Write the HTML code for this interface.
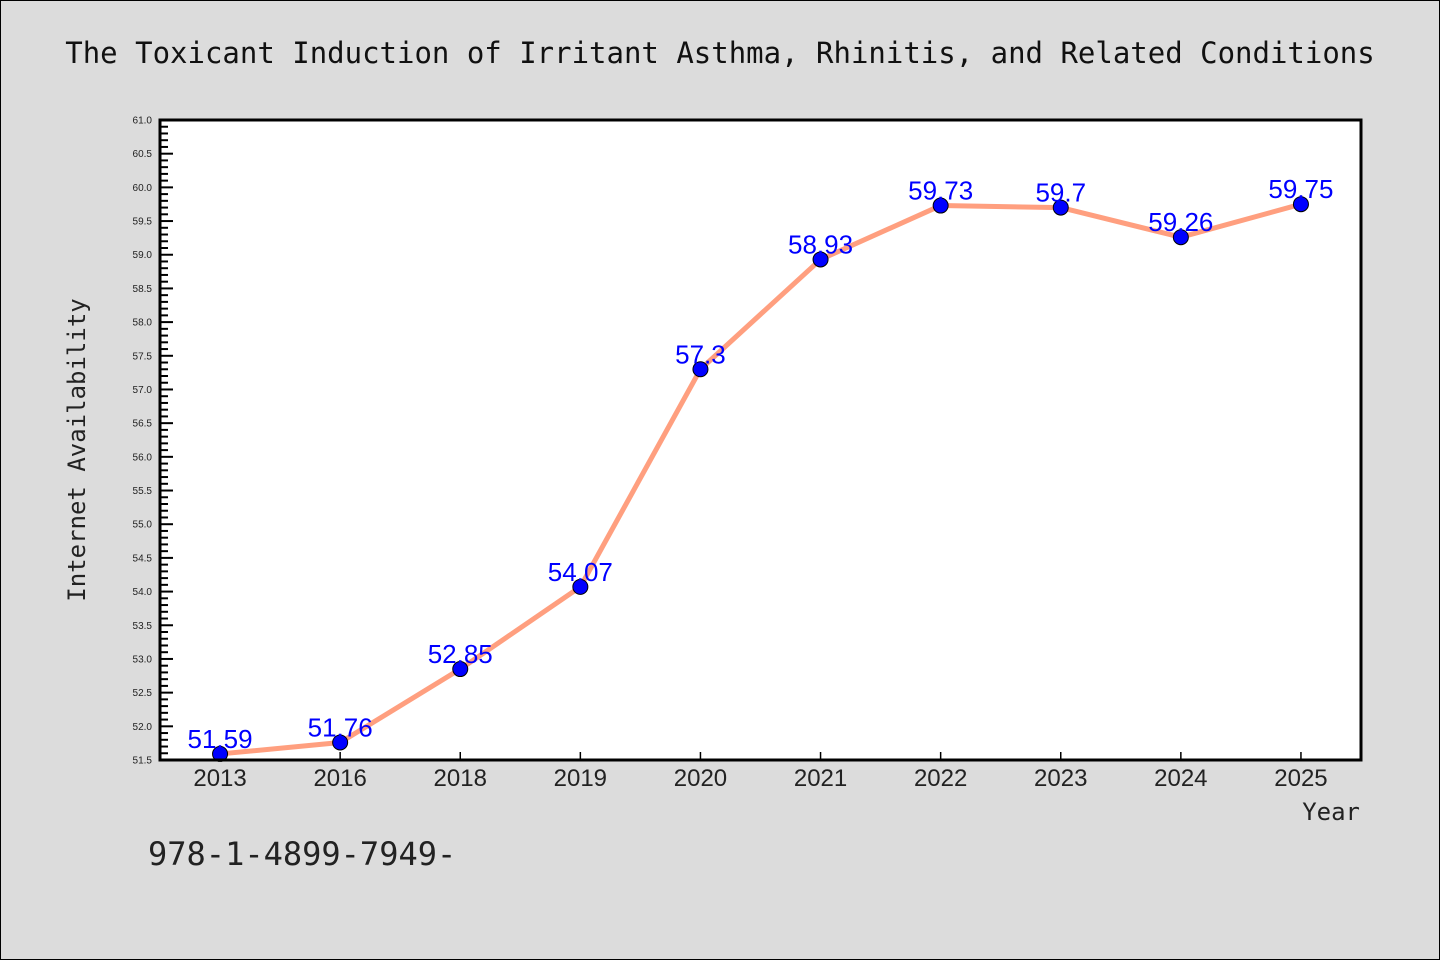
<!DOCTYPE html>
<html><head><meta charset="utf-8"><style>
body{margin:0;background:#dcdcdc;}
svg{display:block;font-family:"Liberation Sans","DejaVu Sans",sans-serif;}
.mono{font-family:"DejaVu Sans Mono","Liberation Mono",monospace;}
</style></head><body>
<svg id="chart" width="1440" height="960">
<rect x="0.5" y="0.5" width="1439" height="959" fill="#dcdcdc" stroke="#000"/>
<text class="mono" x="720" y="63" font-size="29" text-anchor="middle" fill="#111">The Toxicant Induction of Irritant Asthma, Rhinitis, and Related Conditions</text>
<rect x="160" y="120" width="1201" height="640" fill="#fff"/>
<g id="yaxis"></g>
<g id="xaxis"></g>
<g id="series"></g>
<rect x="160" y="120" width="1201" height="640" fill="none" stroke="#000" stroke-width="3"/>
<text class="mono" x="85" y="450" font-size="24" text-anchor="middle" fill="#222" transform="rotate(-90 85 450)">Internet Availability</text>
<text class="mono" x="1360" y="820" font-size="24" text-anchor="end" fill="#222">Year</text>
<text class="mono" x="148" y="865" font-size="32" fill="#222">978-1-4899-7949-</text>
</svg>
<script>
const categories=["2013","2016","2018","2019","2020","2021","2022","2023","2024","2025"];
const values=[51.59,51.76,52.85,54.07,57.3,58.93,59.73,59.7,59.26,59.75];
const valueLabels=["51.59","51.76","52.85","54.07","57.3","58.93","59.73","59.7","59.26","59.75"];
const yMin=51.5,yMax=61.0;
const NS="http://www.w3.org/2000/svg";
const L=160,R=1361,T=120,B=760;
const band=(R-L)/categories.length;
const xs=i=>L+band*(i+0.5);
const ys=v=>B-(v-yMin)/(yMax-yMin)*(B-T);
function mk(tag,attrs,parent){const e=document.createElementNS(NS,tag);for(const k in attrs)e.setAttribute(k,attrs[k]);parent.appendChild(e);return e;}
const ya=document.getElementById('yaxis');
for(let k=0;k<=Math.round((yMax-yMin)*10);k++){
  const v=yMin+k*0.1,y=ys(v),major=k%5===0;
  const t=mk('line',{x1:L,x2:L+(major?13:8),y1:y,y2:y,stroke:'#000','stroke-width':2},ya);
  
  
  if(major){const tx=mk('text',{x:L-8,y:y+3.5,'font-size':10,'text-anchor':'end',fill:'#222'},ya);tx.textContent=v.toFixed(1);
    
    }
}
const xa=document.getElementById('xaxis');
categories.forEach((c,i)=>{
  const x=xs(i);
  const t=mk('line',{x1:x,x2:x,y1:B,y2:B-8,stroke:'#000','stroke-width':1.5},xa);
  
  
  const tx=mk('text',{x:x,y:B+26,'font-size':24,'text-anchor':'middle',fill:'#222'},xa);tx.textContent=c;
  
  
});
const s=document.getElementById('series');
const line=mk('polyline',{points:values.map((v,i)=>xs(i)+','+ys(v)).join(' '),fill:'none',stroke:'#ff9f7f','stroke-width':5,'stroke-linejoin':'round'},s);


values.forEach((v,i)=>{
  const c=mk('circle',{cx:xs(i),cy:ys(v),r:7.5,fill:'#0000ff',stroke:'#000','stroke-width':1},s);
  
  
  const t=mk('text',{x:xs(i),y:ys(v)-6,'font-size':26,'text-anchor':'middle',fill:'#0000ff'},s);
  t.textContent=valueLabels[i];
  
  
});
</script>
</body></html>
